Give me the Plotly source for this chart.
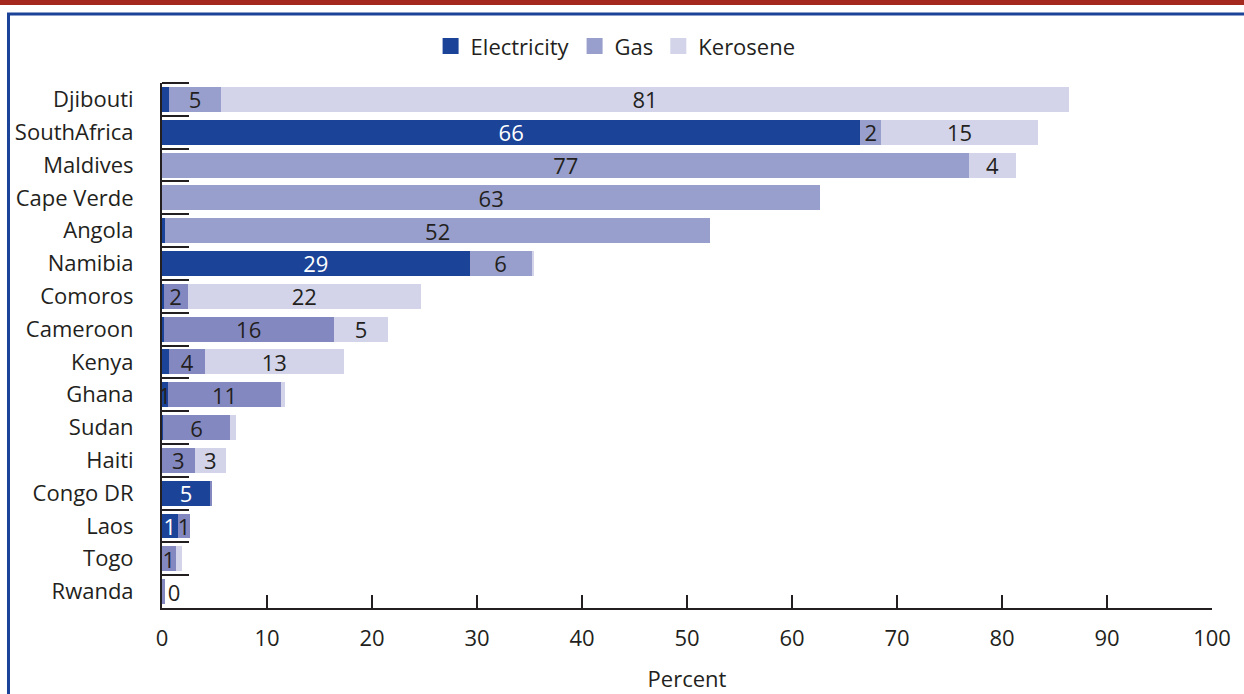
import plotly.graph_objects as go

# Share of households by cooking energy source (percent)
countries = ["Djibouti", "SouthAfrica", "Maldives", "Cape Verde", "Angola", "Namibia",
             "Comoros", "Cameroon", "Kenya", "Ghana", "Sudan", "Haiti",
             "Congo DR", "Laos", "Togo", "Rwanda"]
electricity = [0.7, 66.5, 0, 0, 0.3, 29.3, 0.15, 0.15, 0.7, 0.55, 0.1, 0, 4.6, 1.5, 0, 0]
gas = [4.9, 2.0, 76.9, 62.7, 51.9, 5.9, 2.3, 16.2, 3.4, 10.8, 6.4, 3.1, 0.2, 1.2, 1.3, 0.25]
kerosene = [80.8, 14.9, 4.4, 0, 0, 0.2, 22.2, 5.2, 13.2, 0.4, 0.5, 3.0, 0, 0, 0.6, 0]

# value labels as printed on the bars
elec_labels = ["", "66", "", "", "", "29", "", "", "", "1", "", "", "5", "1", "", ""]
gas_labels = ["5", "2", "77", "63", "52", "6", "2", "16", "4", "11", "6", "3", "", "1", "1", "0"]
kero_labels = ["81", "15", "4", "", "", "", "22", "5", "13", "", "", "3", "", "", "", ""]

x_ticks = [0, 10, 20, 30, 40, 50, 60, 70, 80, 90, 100]

FONT = "Open Sans"
FS = 22
DARK = "#231f20"
C_ELEC = "#1b4398"
C_GAS = "#989fcc"
C_GAS_DARK = "#8389c0"
C_KERO = "#d3d4e9"
gas_colors = [C_GAS] * 6 + [C_GAS_DARK] * 10
# white labels on blue, except the "1" for Ghana that spills over the gas bar
elec_text_colors = ["white"] * 16
elec_text_colors[9] = DARK
# the Rwanda "0" sits just right of its sliver
gas_text_pos = ["inside"] * 15 + ["outside"]

fig = go.Figure()
common = dict(orientation="h", insidetextanchor="middle",
              textangle=0, constraintext="none", showlegend=False, cliponaxis=False)
fig.add_trace(go.Bar(y=countries, x=electricity, name="Electricity", text=elec_labels,
                     textposition="inside",
                     marker=dict(color=C_ELEC, line=dict(width=0)),
                     textfont=dict(family=FONT, size=FS, color=elec_text_colors), **common))
fig.add_trace(go.Bar(y=countries, x=gas, name="Gas", text=gas_labels,
                     textposition=gas_text_pos,
                     marker=dict(color=gas_colors, line=dict(width=0)),
                     textfont=dict(family=FONT, size=FS, color=DARK), **common))
fig.add_trace(go.Bar(y=countries, x=kerosene, name="Kerosene", text=kero_labels,
                     textposition="inside",
                     marker=dict(color=C_KERO, line=dict(width=0)),
                     textfont=dict(family=FONT, size=FS, color=DARK), **common))

# legend entries with larger square swatches
for name, col in [("Electricity", C_ELEC), ("Gas", C_GAS), ("Kerosene", C_KERO)]:
    fig.add_trace(go.Scatter(x=[None], y=[None], mode="markers", name=name,
                             marker=dict(symbol="square", size=22, color=col),
                             hoverinfo="skip"))

fig.update_layout(
    width=1244, height=694,
    margin=dict(l=162, r=32, t=83, b=86, autoexpand=False),
    barmode="stack", bargap=0.24,
    paper_bgcolor="white", plot_bgcolor="white",
    font=dict(family=FONT, size=FS, color=DARK),
    showlegend=True,
    legend=dict(orientation="h", x=0.432, xanchor="center", y=1.07, yanchor="middle",
                font=dict(family=FONT, size=FS, color=DARK), traceorder="normal",
                itemsizing="trace"),
)

fig.update_yaxes(
    type="category", categoryorder="array", categoryarray=countries,
    range=[15.5, -0.5], tickson="boundaries", automargin=False,
    ticks="inside", ticklen=27, tickwidth=2, tickcolor=DARK,
    showline=True, linecolor=DARK, linewidth=2, showgrid=False,
    ticklabelstandoff=22, tickfont=dict(family=FONT, size=FS, color=DARK),
)
fig.update_xaxes(
    range=[0, 100], tickvals=x_ticks, automargin=False,
    ticks="inside", ticklen=13, tickwidth=2, tickcolor=DARK,
    showline=True, linecolor=DARK, linewidth=2, showgrid=False, zeroline=False,
    ticklabelstandoff=10, tickfont=dict(family=FONT, size=FS, color=DARK),
    title=dict(text="Percent", font=dict(family=FONT, size=FS, color=DARK), standoff=20),
)

# top boundary tick of the category axis
fig.add_shape(type="line", xref="paper", yref="paper",
              x0=0, x1=27 / 1050, y0=1, y1=1, line=dict(color=DARK, width=2))

# page decoration: red band on top and blue frame
fig.add_shape(type="rect", xref="paper", yref="paper",
              x0=-0.2, x1=1.1, y0=1.1486, y1=1.2,
              fillcolor="#a5281e", line=dict(width=0), layer="below")
fig.add_shape(type="rect", xref="paper", yref="paper",
              x0=-0.1462, x1=1.1, y0=-0.2, y1=1.1314,
              fillcolor="rgba(0,0,0,0)", line=dict(color="#1b4398", width=3), layer="below")

fig.write_html("out.html", config={"displayModeBar": False},
               post_script="document.body.style.margin='0';")
